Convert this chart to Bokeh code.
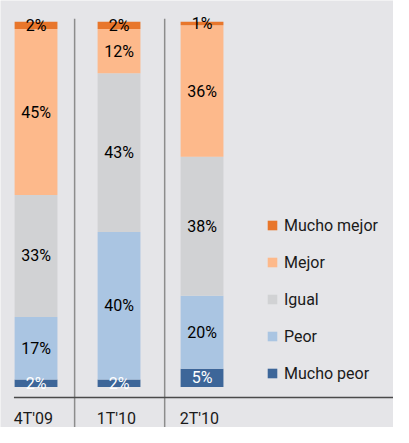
from bokeh.plotting import figure
from bokeh.models import ColumnDataSource, Range1d, Legend, LegendItem
from bokeh.core.properties import value
from bokeh.embed import file_html
from bokeh.resources import INLINE

# ---- data ----
categories = ["4T'09", "1T'10", "2T'10"]
series_names = ["Mucho peor", "Peor", "Igual", "Mejor", "Mucho mejor"]
mucho_peor = [2, 2, 5]
peor = [17, 40, 20]
igual = [33, 43, 38]
mejor = [45, 12, 36]
mucho_mejor = [2, 2, 1]

# ---- style ----
colors = ["#3d6699", "#aac5e2", "#d1d2d4", "#fdb98b", "#e8762b"]
label_colors = ["white", "black", "black", "black", "black"]
BG = "#e5e5e8"
FONT = "Roboto"
FS = "16px"

series = [mucho_peor, peor, igual, mejor, mucho_mejor]
n = len(categories)
xs = list(range(n))
totals = [sum(s[i] for s in series) for i in range(n)]
keys = ["s%d" % k for k in range(len(series))]
data = {"x": xs, "cat": categories}
for k, s in zip(keys, series):
    data[k] = [s[i] / totals[i] * 100 for i in range(n)]
source = ColumnDataSource(data)

W, H = 393, 427
X0 = -0.428
Y0, Y1 = -11.09, 105.8
p = figure(width=W, height=H, output_backend="svg", toolbar_location=None,
           x_range=Range1d(X0, X0 + W / 83.0),
           y_range=Range1d(Y0, Y1),
           x_axis_type=None, y_axis_type=None, min_border=0)
p.grid.visible = False
p.outline_line_color = None
p.background_fill_color = BG
p.border_fill_color = BG

bar_w = 0.516
renderers = p.vbar_stack(keys, x="x", width=bar_w, color=colors, source=source,
                         line_color=None)

# segment labels
lx, ly, lt, lc = [], [], [], []
for i in range(n):
    base = 0.0
    for k, s in enumerate(series):
        h = data[keys[k]][i]
        lx.append(xs[i])
        ly.append(base + h / 2)
        lt.append("%d%%" % s[i])
        lc.append(label_colors[k])
        base += h
p.text(x=lx, y=ly, text=lt, text_color=lc, text_align="center",
       text_baseline="middle", text_font=value(FONT), text_font_size=FS)

# separators
p.segment(x0=[0.465, 1.55], y0=[100.8, 100.8], x1=[0.465, 1.55], y1=[Y0, Y0],
          line_color="#8c8c8c", line_width=1.5)
# baseline
p.segment(x0=[-0.266], y0=[-2.9], x1=[5], y1=[-2.9], line_color="#4a4a4a", line_width=1.5)

# category labels
p.text(x=[x - bar_w / 2 - 0.01 for x in xs], y=[-8.7] * n, text=categories,
       text_color="#1a1a1a", text_align="left", text_baseline="alphabetic",
       text_font=value(FONT), text_font_size=FS)

items = [LegendItem(label=series_names[k], renderers=[renderers[k]])
         for k in reversed(range(len(series)))]
legend = Legend(items=items, location=(266, 44), margin=0, padding=0,
                border_line_color=None, background_fill_alpha=0,
                glyph_width=12, glyph_height=12, label_standoff=6,
                label_height=20, spacing=17,
                label_text_font=FONT, label_text_font_size=FS,
                label_text_color="#1a1a1a")
p.add_layout(legend, "center")

open("out.html", "w").write(file_html(p, INLINE))
